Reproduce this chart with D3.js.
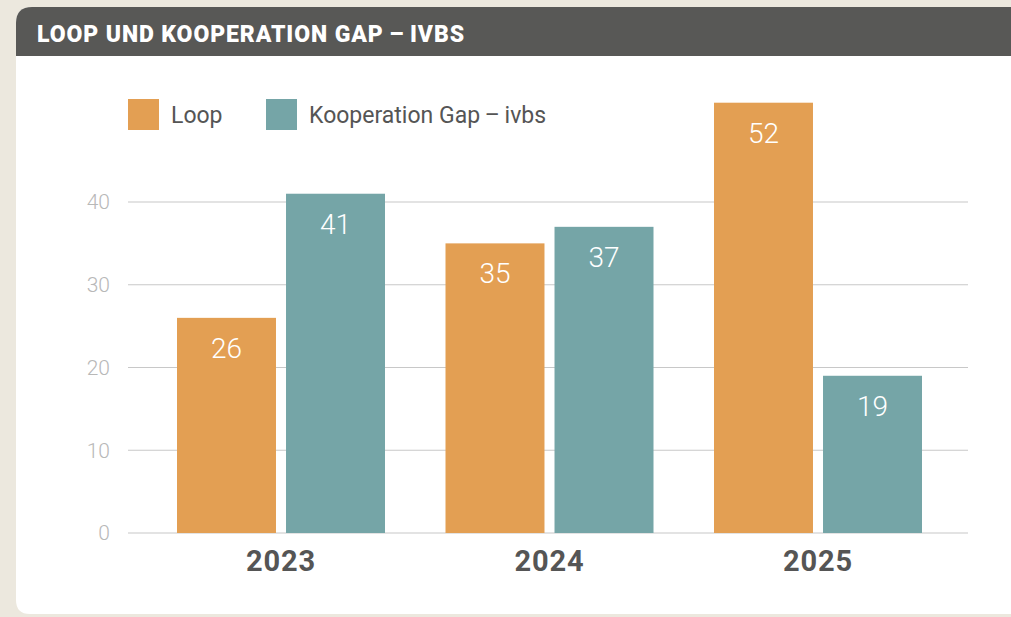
<!DOCTYPE html>
<html>
<head>
<meta charset="utf-8">
<script src="https://cdn.jsdelivr.net/npm/d3@7"></script>
<style>
  html, body { margin: 0; padding: 0; background: #ece8de; }
  svg { display: block; }
</style>
</head>
<body>
<div id="chart"></div>
<script>
const years = ["2023", "2024", "2025"];
const seriesNames = ["Loop", "Kooperation Gap\u2009\u2013\u2009ivbs"];
const loopValues = [26, 35, 52];
const gapValues = [41, 37, 19];
const yTicks = [0, 10, 20, 30, 40];

const colors = ["#e39f53", "#75a5a7"];

const W = 1011, H = 617;
const svg = d3.select("#chart").append("svg")
    .attr("width", W)
    .attr("height", H);

// card background
svg.append("path")
    .attr("d", `M16,${7 + 16} Q16,7 ${16 + 16},7 L${W},7 L${W},614 L${16 + 14},614 Q16,614 16,${614 - 14} Z`)
    .attr("fill", "#ffffff");

// header
svg.append("path")
    .attr("d", `M16,${7 + 16} Q16,7 ${16 + 16},7 L${W},7 L${W},56 L16,56 Z`)
    .attr("fill", "#585856");

svg.append("text")
    .attr("x", 37)
    .attr("y", 42)
    .attr("fill", "#ffffff")
    .style("font-family", "Roboto, 'DejaVu Sans', sans-serif")
    .style("font-weight", "900")
    .style("font-size", "23px")
    .style("letter-spacing", "0.9px")
    .text("LOOP UND KOOPERATION GAP\u2009\u2013\u2009IVBS");

// scales
const y = d3.scaleLinear().domain([0, 10]).range([533, 450.25]);
const x0 = d3.scaleBand().domain(years).range([146.75, 952.25]).paddingInner(0).paddingOuter(0);
const x1 = d3.scaleBand().domain([0, 1]).range([0, 208]).paddingInner(0.092);
const groupOffset = (x0.bandwidth() - 208) / 2;

// grid
const plotLeft = 128, plotRight = 968;
svg.append("g")
    .selectAll("line")
    .data(yTicks)
    .join("line")
    .attr("x1", plotLeft)
    .attr("x2", plotRight)
    .attr("y1", d => y(d))
    .attr("y2", d => y(d))
    .attr("stroke", "#c8c8c8")
    .attr("stroke-width", 1.2);

// y tick labels
svg.append("g")
    .selectAll("text")
    .data(yTicks)
    .join("text")
    .attr("x", 110)
    .attr("y", d => y(d))
    .attr("dy", "0.35em")
    .attr("text-anchor", "end")
    .attr("fill", "#b8b8b8")
    .style("font-family", "Roboto, sans-serif")
    .style("font-weight", "300")
    .style("font-size", "21px")
    .text(d => d);

// bars
const rows = years.map((yr, i) => ({ year: yr, values: [loopValues[i], gapValues[i]] }));

const groups = svg.append("g")
    .selectAll("g")
    .data(rows)
    .join("g")
    .attr("transform", d => `translate(${x0(d.year) + groupOffset},0)`);

groups.selectAll("rect")
    .data(d => d.values.map((v, k) => ({ k, v })))
    .join("rect")
    .attr("x", d => x1(d.k))
    .attr("width", x1.bandwidth())
    .attr("y", d => y(d.v))
    .attr("height", d => y(0) - y(d.v))
    .attr("fill", d => colors[d.k]);

groups.selectAll("text.value")
    .data(d => d.values.map((v, k) => ({ k, v })))
    .join("text")
    .attr("class", "value")
    .attr("x", d => x1(d.k) + x1.bandwidth() / 2)
    .attr("y", d => y(d.v) + 40)
    .attr("text-anchor", "middle")
    .attr("fill", "#ffffff")
    .style("font-family", "Roboto, sans-serif")
    .style("font-weight", "300")
    .style("font-size", "28px")
    .text(d => d.v);

// x labels
svg.append("g")
    .selectAll("text")
    .data(years)
    .join("text")
    .attr("x", d => x0(d) + x0.bandwidth() / 2)
    .attr("y", 571)
    .attr("text-anchor", "middle")
    .attr("fill", "#555555")
    .style("font-family", "Roboto, sans-serif")
    .style("font-weight", "bold")
    .style("font-size", "29px")
    .style("letter-spacing", "0.8px")
    .text(d => d);

// legend
const legendX = [128, 266];
const legend = svg.append("g")
    .selectAll("g")
    .data(seriesNames)
    .join("g")
    .attr("transform", (d, i) => `translate(${legendX[i]},99)`);

legend.append("rect")
    .attr("width", 31)
    .attr("height", 31)
    .attr("fill", (d, i) => colors[i]);

legend.append("text")
    .attr("x", 43)
    .attr("y", 15.5)
    .attr("dy", "0.35em")
    .attr("fill", "#555555")
    .style("font-family", "Roboto, sans-serif")
    .style("font-size", "23px")
    .text(d => d);
</script>
</body>
</html>
